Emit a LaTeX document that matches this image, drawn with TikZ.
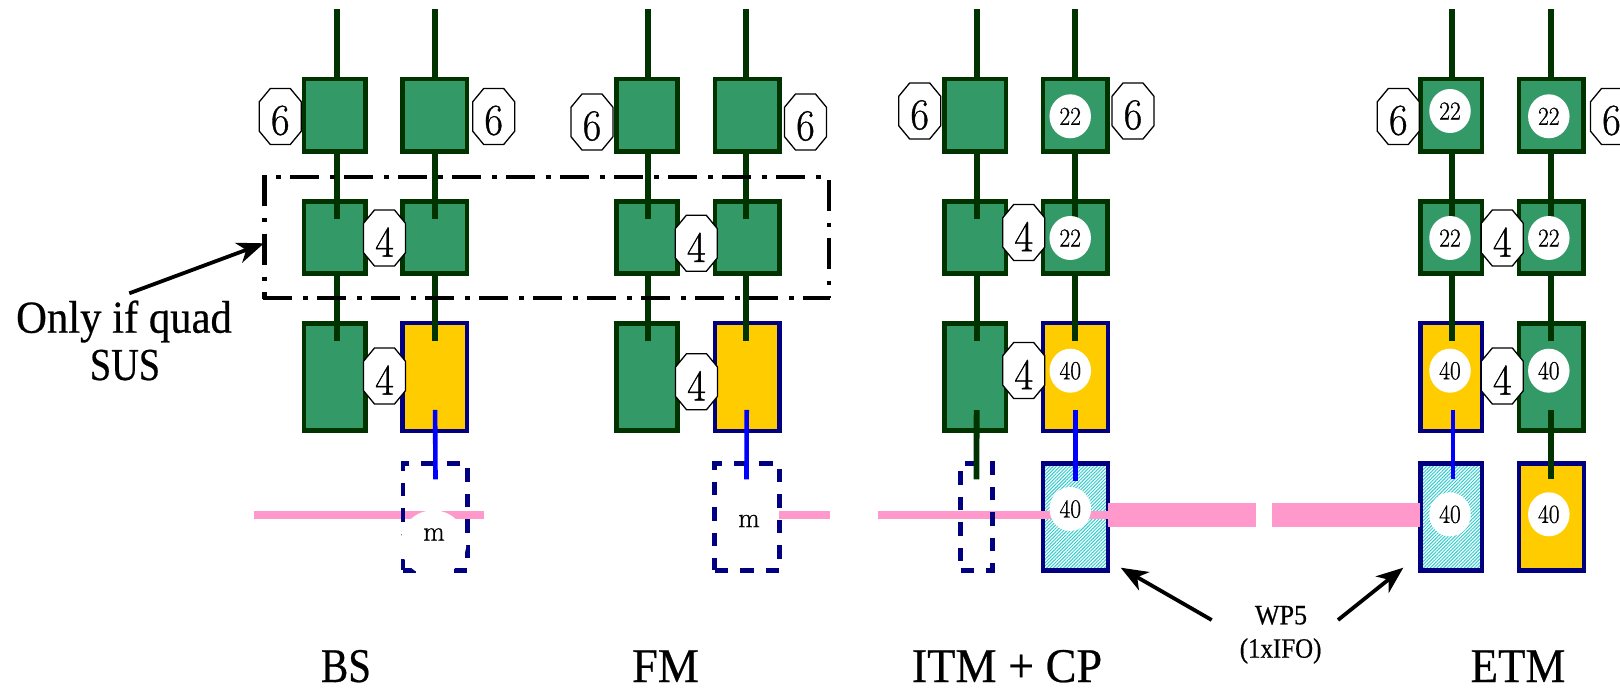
\documentclass[tikz,border=0pt]{standalone}
\usepackage{fontspec}
\usepackage{graphicx}
\usetikzlibrary{arrows.meta,shapes.geometric,patterns.meta}
\newfontfamily\labfont[FakeBold=0.5]{Liberation Serif}
\newfontfamily\digfont[FakeBold=0.8]{Latin Modern Roman}
\definecolor{gfill}{HTML}{339966}
\definecolor{gdark}{HTML}{003300}
\definecolor{navyb}{HTML}{000080}
\definecolor{yfill}{HTML}{FFCC00}
\definecolor{pinkb}{HTML}{FF99CC}
\definecolor{hatchc}{HTML}{33CCCC}
\tikzset{
  gbox/.style={rectangle,draw=gdark,fill=gfill,line width=4.8pt,inner sep=0pt},
  ybox/.style={rectangle,draw=navyb,fill=yfill,line width=4.2pt,inner sep=0pt},
  hbox/.style={rectangle,draw=navyb,line width=4.2pt,inner sep=0pt,preaction={fill=white},
     pattern={Lines[angle=45,distance=2.4pt,line width=1pt]},pattern color=hatchc},
  dbox/.style={rectangle,draw=navyb,line width=4.2pt,inner sep=0pt,dash pattern=on 13.5pt off 12pt},
  gwire/.style={draw=gdark,line width=5.8pt},
  bwire/.style={draw=blue,line width=4.6pt},
  octline/.style={draw=black,fill=white,line width=1.3pt,line join=miter},
  oct/.style={inner sep=0pt,font=\digfont\fontsize{44}{48}\selectfont},
  disc/.style={ellipse,fill=white,draw=none,minimum width=41.5pt,minimum height=44pt,inner sep=0pt,
     font=\digfont\fontsize{26}{28}\selectfont},
  lab/.style={anchor=base,inner sep=0pt,font=\labfont\fontsize{44}{48}\selectfont},
  slab/.style={anchor=base,inner sep=0pt,font=\labfont\fontsize{28}{30}\selectfont},
  arr/.style={line width=3.8pt,-{Stealth[length=27pt,width=21pt,inset=8pt]}},
  dashbl/.style={black}
}
% name, style, x1, x2, y1, y2 (outer edges)
\newcommand{\bx}[6]{\node[#2,minimum width={#4-#3-4.5},minimum height={#6-#5-4.5}] (#1) at ({(#3+#4)/2},{(#5+#6)/2}) {};}
% style, A, B, dx, shift into A, shift into B
\newcommand{\wire}[6]{\draw[#1] ([xshift=#4 pt,yshift=#5 pt]#2.south) -- ([xshift=#4 pt,yshift=#6 pt]#3.north);}
\newcommand{\topw}[3]{\coordinate (t#2) at (#1,9); \draw[gwire] (t#2) -- ([yshift=-3pt]t#2 |- #3.north);}
\newcommand{\oc}[4]{\draw[octline,shift={(#2,#3)}] (-10,-28) -- (10,-28) -- (21,-14.7) -- (21,14.7) -- (10,28) -- (-10,28) -- (-21,14.7) -- (-21,-14.7) -- cycle;
  \node[oct] (#1) at (#2,{#3+4}) {\scalebox{.92}[1]{#4}};}
\newcommand{\dc}[4]{\node[disc] (#1) at (#2,#3) {\scalebox{.9}[1]{#4}};}
\begin{document}
\begin{tikzpicture}[x=1pt,y=-1pt]
\useasboundingbox (0,0) rectangle (1620,688);
% boxes
\bx{bl1}{gbox}{301.7}{367.7}{76.7}{154}
\bx{bl2}{gbox}{301.7}{367.7}{199}{276}
\bx{bl3}{gbox}{301.7}{367.7}{321}{433}
\bx{br1}{gbox}{400.3}{469.3}{76.7}{154}
\bx{br2}{gbox}{400.3}{469.3}{199}{276}
\bx{br3}{ybox}{400.3}{469.3}{321}{433}
\bx{fl1}{gbox}{614}{679.7}{76.7}{154}
\bx{fl2}{gbox}{614}{679.7}{199}{276}
\bx{fl3}{gbox}{614}{679.7}{321}{433}
\bx{fr1}{gbox}{712.7}{781.7}{76.7}{154}
\bx{fr2}{gbox}{712.7}{781.7}{199}{276}
\bx{fr3}{ybox}{712.7}{781.7}{321}{433}
\bx{il1}{gbox}{942}{1008.3}{76.7}{154}
\bx{il2}{gbox}{942}{1008.3}{199}{276}
\bx{il3}{gbox}{942}{1008.3}{321}{433}
\bx{ir1}{gbox}{1040.7}{1110}{76.7}{154}
\bx{ir2}{gbox}{1040.7}{1110}{199}{276}
\bx{ir3}{ybox}{1040.7}{1110}{321}{433}
\bx{ir4}{hbox}{1040.7}{1110}{461.3}{572.7}
\bx{el1}{gbox}{1418.3}{1484.3}{76.7}{154}
\bx{el2}{gbox}{1418.3}{1484.3}{199}{276}
\bx{el3}{ybox}{1418.3}{1484.3}{321}{433}
\bx{el4}{hbox}{1418.3}{1484.3}{461.3}{572.7}
\bx{er1}{gbox}{1516.7}{1586}{76.7}{154}
\bx{er2}{gbox}{1516.7}{1586}{199}{276}
\bx{er3}{gbox}{1516.7}{1586}{321}{433}
\bx{er4}{ybox}{1516.7}{1586}{461.3}{572.7}
% pink beam
\fill[pinkb] (254,511) rectangle (484,519);
\fill[pinkb] (779,511) rectangle (829.5,519);
\fill[pinkb] (878,511) rectangle (1108,519);
\fill[pinkb] (1107.5,503) rectangle (1256,527);
\fill[pinkb] (1272,503) rectangle (1420,527);
% dashed boxes
\bx{br4}{dbox}{400.7}{469.7}{461.3}{572.7}
\bx{fr4}{dbox}{712.3}{781.7}{461.3}{572.7}
\bx{il4}{dbox}{958.3}{994.7}{461.3}{572.7}
% wires
\topw{336.7}{a}{bl1}\topw{434.7}{b}{br1}
\topw{648.3}{c}{fl1}\topw{746.3}{d}{fr1}
\topw{976.7}{e}{il1}\topw{1075.3}{f}{ir1}
\topw{1452.3}{g}{el1}\topw{1551.3}{h}{er1}
\wire{gwire}{bl1}{bl2}{2}{0}{-19.7}
\wire{gwire}{br1}{br2}{0}{0}{-19.7}
\wire{gwire}{fl1}{fl2}{1.5}{0}{-19.7}
\wire{gwire}{fr1}{fr2}{-.9}{0}{-19.7}
\wire{gwire}{il1}{il2}{1.5}{5}{-19.7}
\wire{gwire}{ir1}{ir2}{0}{5}{-19.7}
\wire{gwire}{el1}{el2}{1}{5}{-19.7}
\wire{gwire}{er1}{er2}{0}{5}{-19.7}
\wire{gwire}{bl2}{bl3}{2}{5}{-19.7}
\wire{gwire}{br2}{br3}{0}{5}{-19.7}
\wire{gwire}{fl2}{fl3}{1.5}{5}{-19.7}
\wire{gwire}{fr2}{fr3}{-.9}{5}{-19.7}
\wire{gwire}{il2}{il3}{1.5}{5}{-19.7}
\wire{gwire}{ir2}{ir3}{0}{5}{-19.7}
\wire{gwire}{el2}{el3}{1}{5}{-19.7}
\wire{gwire}{er2}{er3}{0}{5}{-19.7}
\wire{bwire}{br3}{br4}{0.3}{23}{-18}
\wire{bwire}{fr3}{fr4}{-.5}{23}{-18}
\draw[gwire] ([xshift=1.5pt,yshift=23pt]il3.south) -- ([yshift=-18pt]il4.north);
\wire{bwire}{ir3}{ir4}{0}{23}{-18}
\wire{bwire}{el3}{el4}{1.7}{23}{-18}
\wire{gwire}{er3}{er4}{0}{23}{-18}
% dash-dot frame
\draw[dashbl,line width=3.8pt,dash pattern=on 29pt off 11pt on 5pt off 9pt,dash phase=26.7pt] (262.7,177) -- (829,177);
\draw[dashbl,line width=3.8pt,dash pattern=on 29pt off 11pt on 5pt off 9pt] (263,297.7) -- (830,297.7);
\draw[dashbl,line width=4.2pt,dash pattern=on 31pt off 12pt on 4pt off 11.5pt] (264.5,175.2) -- (264.5,299.4);
\draw[dashbl,line width=4.2pt,dash pattern=on 31pt off 12pt on 4pt off 11pt] (829,180) -- (829,297.7);
% octagons
\oc{o1}{280.3}{116.5}{6}\oc{o2}{493.7}{116.5}{6}\oc{o3}{384.5}{238}{4}\oc{o4}{384.5}{376}{4}
\oc{o5}{592}{122}{6}\oc{o6}{805.5}{122}{6}\oc{o7}{696.3}{243.3}{4}\oc{o8}{696.5}{381.7}{4}
\oc{o9}{919.7}{111}{6}\oc{o10}{1133}{111}{6}\oc{o11}{1023.7}{232.5}{4}\oc{o12}{1023.7}{370.5}{4}
\oc{o13}{1398.3}{116.5}{6}\oc{o14}{1611.5}{116.5}{6}\oc{o15}{1502.3}{238}{4}\oc{o16}{1502.3}{376}{4}
% discs
\dc{c1}{1070.2}{116.3}{22}\dc{c2}{1070.2}{238}{22}\dc{c3}{1070.3}{370.7}{40}\dc{c4}{1070.3}{509}{40}
\dc{c5}{1450}{111}{22}\dc{c6}{1450}{238}{22}\dc{c7}{1450}{370.7}{40}\dc{c8}{1450}{514.3}{40}
\dc{c9}{1548.8}{116.3}{22}\dc{c10}{1548.8}{238}{22}\dc{c11}{1548.8}{370.7}{40}\dc{c12}{1548.8}{514.3}{40}
\node[ellipse,fill=white,minimum width=66pt,minimum height=66pt,inner sep=0pt] (m1) at (433.3,543.3) {};
\node[inner sep=0pt,font=\digfont\fontsize{28}{30}\selectfont] (m1t) at (434,534.5) {m};
\node[inner sep=0pt,font=\digfont\fontsize{28}{30}\selectfont] (m2) at (749,521) {m};
% labels
\node[lab] (q1) at (124,332.7) {\scalebox{.97}[1.04]{Only if quad}};
\node[lab] (q2) at (125,380) {\scalebox{.87}[1.04]{SUS}};
\node[lab] (bs) at (346,682) {\scalebox{.93}[1.1]{BS}};
\node[lab] (fm) at (665.5,682) {\scalebox{1.05}[1.1]{FM}};
\node[lab] (itm) at (1007,682) {\scalebox{1.05}[1.1]{ITM + CP}};
\node[lab] (etm) at (1518,682) {\scalebox{1.02}[1.1]{ETM}};
\node[slab] (wp) at (1281,624.3) {\scalebox{.93}[1]{WP5}};
\node[slab] (ifo) at (1280.6,657.7) {\scalebox{.89}[1]{(1xIFO)}};
% arrows
\coordinate (a1s) at (129.3,293.3);
\coordinate (a1e) at (264,243.3);
\coordinate (a2s) at (1211.7,620);
\coordinate (a2e) at (1120.7,567.7);
\coordinate (a3s) at (1338,620);
\coordinate (a3e) at (1403.3,567.7);
\draw[arr] (a1s) -- (a1e);
\draw[arr] (a2s) -- (a2e);
\draw[arr] (a3s) -- (a3e);
\end{tikzpicture}
\end{document}
